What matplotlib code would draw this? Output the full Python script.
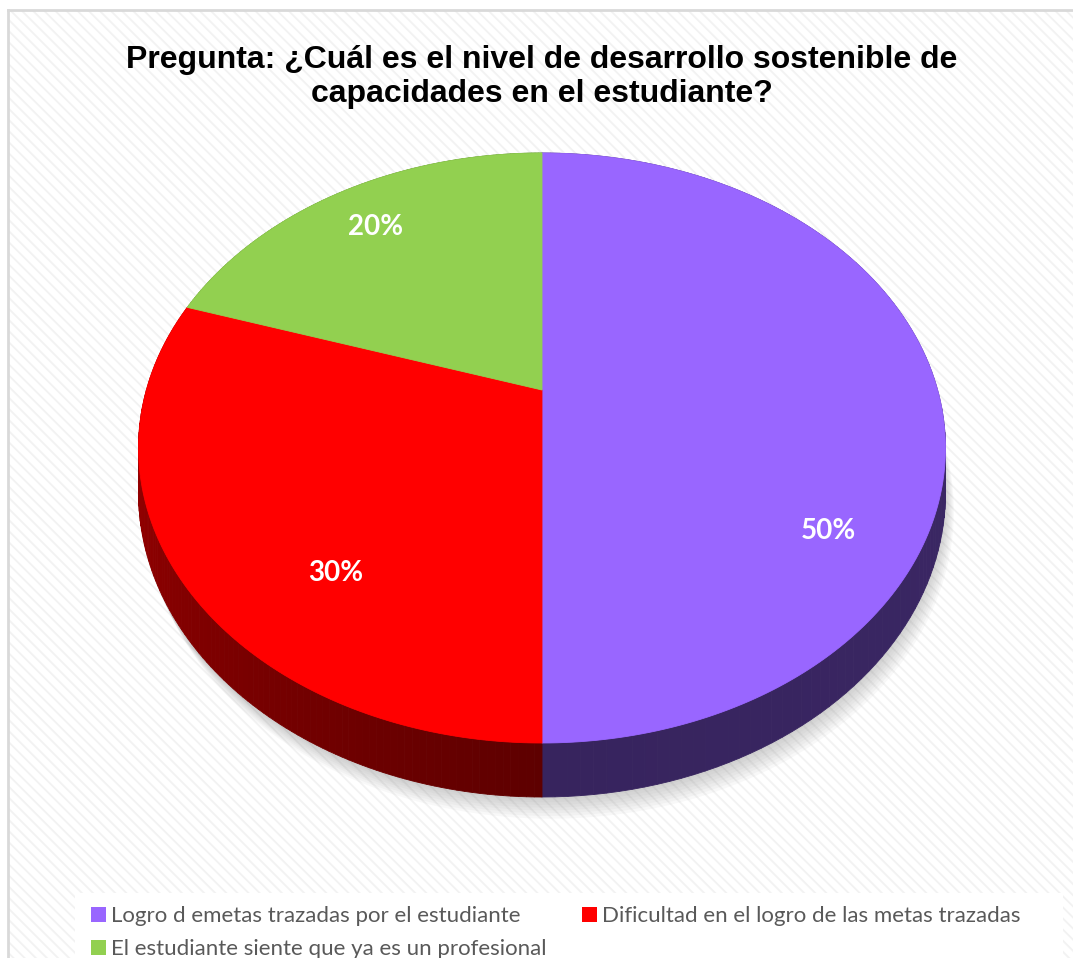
import numpy as np
import matplotlib.pyplot as plt
from matplotlib.patches import Polygon, Rectangle, Patch

# ── Data ──────────────────────────────────────────────────────────
labels = [
    "Logro d emetas trazadas por el estudiante",
    "Dificultad en el logro de las metas trazadas",
    "El estudiante siente que ya es un profesional",
]
values = [50, 30, 20]
pct_labels = ["50%", "30%", "20%"]
title = "Pregunta: ¿Cuál es el nivel de desarrollo sostenible de\ncapacidades en el estudiante?"

# ── Style ─────────────────────────────────────────────────────────
top_colors = ["#9966FF", "#FF0000", "#92D050"]
side_colors = [("#3F2B6C", "#37245E"), ("#5E0000", "#A80000"), ("#5E8A2E", "#4E7526")]
label_nudge = [(29, 141), (19, 66), (-29, -28)]

W, H = 1073, 958
CX, CY = 542, 390          # pie centre on screen
RW, RH = 395.6, 283.6      # radii before perspective
K = 0.1966                 # perspective strength
DEPTH = 43.4               # pie thickness


def project(phi, r=1.0, drop=0.0):
    X = r * np.cos(phi)
    Z = r * np.sin(phi)
    s = 1.0 / (1.0 + K * Z)
    return CX + RW * X * s, CY - RH * Z * s + drop * s


def mix(c1, c2, t):
    a = np.array(plt.matplotlib.colors.to_rgb(c1))
    b = np.array(plt.matplotlib.colors.to_rgb(c2))
    return tuple(a + (b - a) * t)


fig = plt.figure(figsize=(W / 100, H / 100), dpi=100)
ax = fig.add_axes([0, 0, 1, 1])
ax.set_xlim(0, W)
ax.set_ylim(H, 0)
ax.axis("off")

# background with faint diagonal stripes
plt.rcParams["hatch.linewidth"] = 1.3
ax.add_patch(Rectangle((8, 10), W, H, facecolor="white", edgecolor="#F2F2F2",
                       hatch="\\\\\\", linewidth=0, zorder=0))
ax.plot([8, 8], [10, H + 5], color="#D9D9D9", lw=2, zorder=1)
ax.plot([8, W + 5], [10, 10], color="#D9D9D9", lw=2, zorder=1)

# slice angles (start at top, clockwise)
total = sum(values)
bounds = np.deg2rad(90 - 360 * np.concatenate([[0], np.cumsum(values)]) / total)

# soft shadow under the pie
full = np.linspace(0, 2 * np.pi, 300)
for i in range(8):
    sx, sy = project(full, drop=DEPTH + 2 + i * 2.2)
    ax.add_patch(Polygon(np.column_stack([sx + i * 1.2, sy]), closed=True,
                         facecolor="#808080", edgecolor="none", alpha=0.05, zorder=2))

# side walls
for val, a0, a1, (c1, c2) in zip(values, bounds[:-1], bounds[1:], side_colors):
    th = np.linspace(a0, a1, 120)
    for j in range(len(th) - 1):
        t = j / (len(th) - 2)
        col = mix(c1, c2, t)
        x0, y0 = project(th[j])
        x1, y1 = project(th[j + 1])
        x2, y2 = project(th[j + 1], drop=DEPTH)
        x3, y3 = project(th[j], drop=DEPTH)
        ax.add_patch(Polygon([[x0, y0], [x1, y1], [x2, y2], [x3, y3]], closed=True,
                             facecolor=col, edgecolor=col, lw=0.6, zorder=3))

# top faces
for a0, a1, col in zip(bounds[:-1], bounds[1:], top_colors):
    th = np.linspace(a0, a1, 200)
    px, py = project(th)
    pts = np.vstack([[CX, CY], np.column_stack([px, py])])
    ax.add_patch(Polygon(pts, closed=True, facecolor=col, edgecolor=col, lw=0.6, zorder=4))

# percentage labels
for a0, a1, txt, (dx, dy) in zip(bounds[:-1], bounds[1:], pct_labels, label_nudge):
    lx, ly = project((a0 + a1) / 2, r=0.65)
    ax.text(lx + dx, ly + dy, txt, color="white", fontsize=20, fontweight="bold",
            family="Lato", ha="center", va="center", zorder=6)

# title
ax.text(542, 77, title, ha="center", va="center", fontsize=23, fontweight="bold",
        family="Liberation Sans", linespacing=1.2, zorder=6)

# legend
ax.add_patch(Rectangle((75, 893), 988, 80, facecolor="white", edgecolor="none", zorder=5))
handles = [Patch(facecolor=c, edgecolor="none") for c in top_colors]
order = [0, 2, 1]
fig.legend([handles[i] for i in order], [labels[i] for i in order],
           loc="upper left", bbox_to_anchor=(80 / W, 1 - 895 / H), ncol=2,
           frameon=False, handlelength=0.65, handleheight=0.65, handletextpad=0.25,
           columnspacing=1.6, labelspacing=0.6, borderpad=0,
           prop={"family": "Lato", "size": 16}, labelcolor="#595959")

fig.savefig("out.png", dpi=100)
